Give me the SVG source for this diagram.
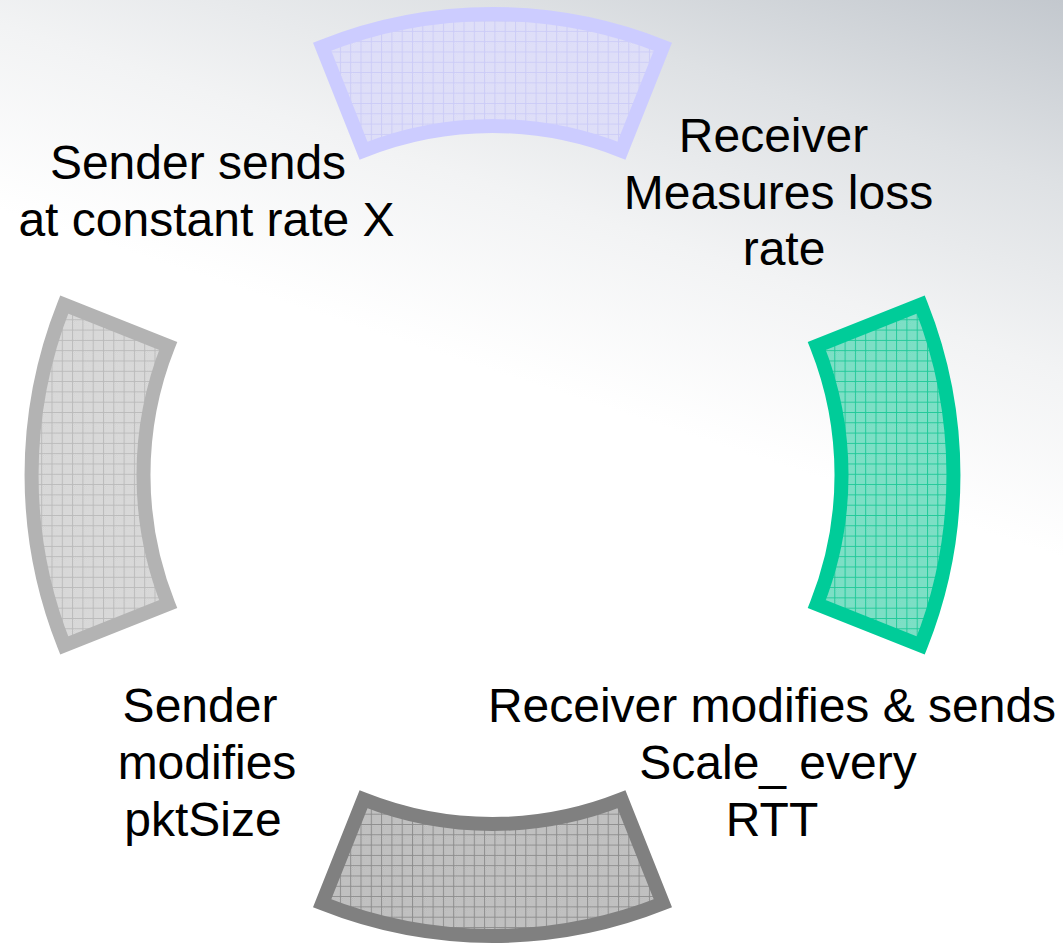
<svg xmlns="http://www.w3.org/2000/svg" xmlns:xlink="http://www.w3.org/1999/xlink" width="1063" height="944" viewBox="0 0 1063 944">
  <style>
    .lbl { font-family: "Liberation Sans", Arial, sans-serif; font-size: 48px; fill: #000; text-anchor: middle; }
    .seg { stroke-width: 14; stroke-linejoin: miter; stroke-miterlimit: 10; }
  </style>
  <defs>
    <linearGradient id="bg" gradientUnits="userSpaceOnUse" x1="1063" y1="0" x2="880" y2="560">
      <stop offset="0" stop-color="#C3C8CE"/>
      <stop offset="0.3" stop-color="#DEE1E4"/>
      <stop offset="0.6" stop-color="#F2F3F4"/>
      <stop offset="0.9" stop-color="#FFFFFF"/>
    </linearGradient>
    <pattern id="chkTop" width="2" height="2" patternUnits="userSpaceOnUse">
      <rect width="2" height="2" fill="#E4E4F9"/>
      <rect width="1" height="1" fill="#D9D9F7"/>
      <rect x="1" y="1" width="1" height="1" fill="#D9D9F7"/>
    </pattern>
    <pattern id="gridTop" width="10.3" height="10.3" patternUnits="userSpaceOnUse">
      <rect width="10.3" height="10.3" fill="url(#chkTop)"/>
      <path d="M0 0.5H10.3M0.5 0V10.3" stroke="#CCCCF7" stroke-width="1" fill="none"/>
    </pattern>
    <pattern id="chkRight" width="2" height="2" patternUnits="userSpaceOnUse">
      <rect width="2" height="2" fill="#8AE3CC"/>
      <rect width="1" height="1" fill="#6FDBBF"/>
      <rect x="1" y="1" width="1" height="1" fill="#6FDBBF"/>
    </pattern>
    <pattern id="gridRight" width="10.3" height="10.3" patternUnits="userSpaceOnUse">
      <rect width="10.3" height="10.3" fill="url(#chkRight)"/>
      <path d="M0 0.5H10.3M0.5 0V10.3" stroke="#22C999" stroke-width="1" fill="none"/>
    </pattern>
    <pattern id="chkBottom" width="2" height="2" patternUnits="userSpaceOnUse">
      <rect width="2" height="2" fill="#CCCCCC"/>
      <rect width="1" height="1" fill="#B4B4B4"/>
      <rect x="1" y="1" width="1" height="1" fill="#B4B4B4"/>
    </pattern>
    <pattern id="gridBottom" width="10.3" height="10.3" patternUnits="userSpaceOnUse">
      <rect width="10.3" height="10.3" fill="url(#chkBottom)"/>
      <path d="M0 0.5H10.3M0.5 0V10.3" stroke="#8E8E8E" stroke-width="1" fill="none"/>
    </pattern>
    <pattern id="chkLeft" width="2" height="2" patternUnits="userSpaceOnUse">
      <rect width="2" height="2" fill="#E0E0E0"/>
      <rect width="1" height="1" fill="#D0D0D0"/>
      <rect x="1" y="1" width="1" height="1" fill="#D0D0D0"/>
    </pattern>
    <pattern id="gridLeft" width="10.3" height="10.3" patternUnits="userSpaceOnUse">
      <rect width="10.3" height="10.3" fill="url(#chkLeft)"/>
      <path d="M0 0.5H10.3M0.5 0V10.3" stroke="#BBBBBB" stroke-width="1" fill="none"/>
    </pattern>
  </defs>

  <rect x="0" y="0" width="1063" height="944" fill="url(#bg)"/>

  <g id="seg-top">
    <path class="seg" fill="url(#gridTop)" stroke="#CCCCFF" d="M322.1 46.7 A461 461 0 0 1 662.9 46.7 L621.5 150.7 A349 349 0 0 0 363.5 150.7 Z"/>
  </g>
  <g id="seg-right">
    <path class="seg" fill="url(#gridRight)" stroke="#00CC99" d="M920.8 304.6 A461 461 0 0 1 920.8 645.4 L816.8 604.0 A349 349 0 0 0 816.8 346.0 Z"/>
  </g>
  <g id="seg-bottom">
    <path class="seg" fill="url(#gridBottom)" stroke="#808080" d="M662.9 903.3 A461 461 0 0 1 322.1 903.3 L363.5 799.3 A349 349 0 0 0 621.5 799.3 Z"/>
  </g>
  <g id="seg-left">
    <path class="seg" fill="url(#gridLeft)" stroke="#B3B3B3" d="M64.2 645.4 A461 461 0 0 1 64.2 304.6 L168.2 346.0 A349 349 0 0 0 168.2 604.0 Z"/>
  </g>

  <g id="connectors"></g>

  <g id="label-sender-sends">
    <text class="lbl" x="198" y="179">Sender sends</text>
    <text class="lbl" x="206.5" y="236">at constant rate X</text>
  </g>
  <g id="label-receiver-measures">
    <text class="lbl" x="773.5" y="152">Receiver</text>
    <text class="lbl" x="778.5" y="209">Measures loss</text>
    <text class="lbl" x="784" y="265">rate</text>
  </g>
  <g id="label-receiver-modifies">
    <text class="lbl" x="772" y="722">Receiver modifies &amp; sends</text>
    <text class="lbl" x="778" y="779">Scale_ every</text>
    <text class="lbl" x="772" y="836">RTT</text>
  </g>
  <g id="label-sender-modifies">
    <text class="lbl" x="200" y="722">Sender</text>
    <text class="lbl" x="207" y="779">modifies</text>
    <text class="lbl" x="203" y="836">pktSize</text>
  </g>
</svg>
